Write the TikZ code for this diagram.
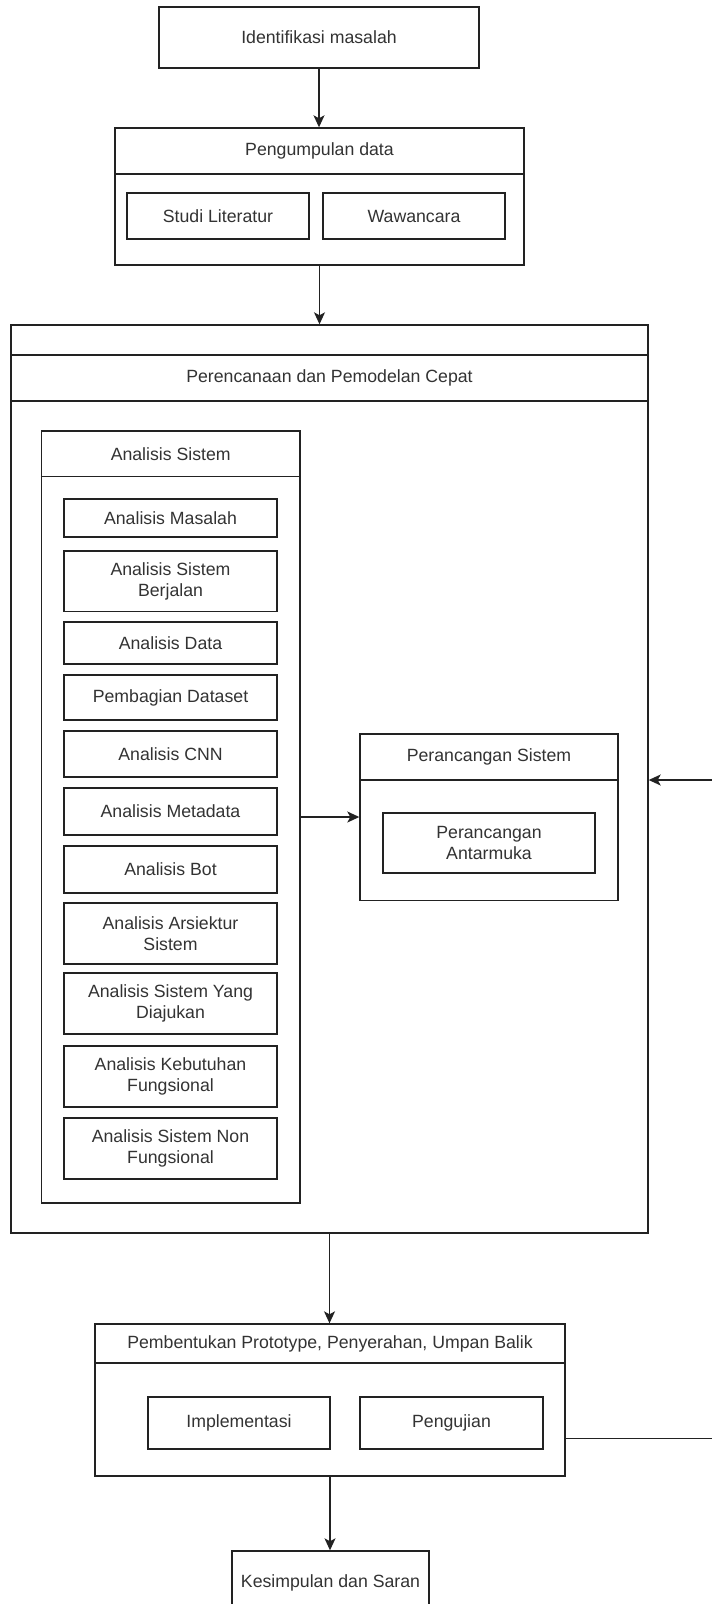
\documentclass[tikz,border=0pt]{standalone}
\usepackage{fontspec}
\setmainfont{Liberation Sans}
\usetikzlibrary{arrows.meta,calc}
\definecolor{lc}{HTML}{222222}
\definecolor{tc}{HTML}{333333}
\newcommand\fs{\fontsize{17.7}{21.5}\selectfont}
\begin{document}
\begin{tikzpicture}[x=1pt,y=-1pt,
  bx/.style={draw=lc, line width=1.4pt, fill=white, inner sep=0pt, align=center, font=\fs, text=tc},
  txt/.style={inner sep=0pt, align=center, font=\fs, text=tc},
  ln/.style={draw=lc, line width=1.4pt},
  arr/.style={draw=lc, line width=1.4pt, -{Stealth[length=12pt,width=11pt,inset=3pt]}},
  item/.style={bx, minimum width=213pt}]
\useasboundingbox (0,0) rectangle (712,1604);
% top
\node[bx, minimum width=320pt, minimum height=61pt] (ident) at (319,37.5) {Identifikasi masalah};
\node[bx, minimum width=409pt, minimum height=137pt] (peng) at (319.5,196.5) {};
\draw[ln] (peng.west |- 0,174) -- (peng.east |- 0,174);
\node[txt] (pengT) at (319.5,151) {Pengumpulan data};
\node[bx, minimum width=182pt, minimum height=46pt] (studi) at (218,216) {Studi Literatur};
\node[bx, minimum width=182pt, minimum height=46pt] (waw) at (414,216) {Wawancara};
% planning container
\node[bx, minimum width=637pt, minimum height=908pt] (peren) at (329.5,779) {};
\draw[ln] (peren.west |- 0,355) -- (peren.east |- 0,355);
\draw[ln] (peren.west |- 0,401) -- (peren.east |- 0,401);
\node[txt] (perenT) at (329.5,378) {Perencanaan dan Pemodelan Cepat};
% analisis sistem
\node[bx, minimum width=258.5pt, minimum height=772pt] (anasis) at (170.75,817) {};
\draw[ln] (anasis.west |- 0,476.5) -- (anasis.east |- 0,476.5);
\node[txt] (anasisT) at (170.75,453.75) {Analisis Sistem};
\node[item, minimum height=38pt] (a1) at (170.5,518) {Analisis Masalah};
\node[item, minimum height=60.5pt] (a2) at (170.5,581.25) {Analisis Sistem\\Berjalan};
\node[item, minimum height=42pt] (a3) at (170.5,643) {Analisis Data};
\node[item, minimum height=45pt] (a4) at (170.5,697.5) {Pembagian Dataset};
\node[item, minimum height=46pt] (a5) at (170.5,754) {Analisis CNN};
\node[item, minimum height=47pt] (a6) at (170.5,811.5) {Analisis Metadata};
\node[item, minimum height=47pt] (a7) at (170.5,869.5) {Analisis Bot};
\node[item, minimum height=61pt] (a8) at (170.5,933.5) {Analisis Arsiektur\\Sistem};
\node[item, minimum height=61pt] (a9) at (170.5,1003.5) {Analisis Sistem Yang\\Diajukan};
\node[item, minimum height=61pt] (a10) at (170.5,1076.5) {Analisis Kebutuhan\\Fungsional};
\node[item, minimum height=61pt] (a11) at (170.5,1148.5) {Analisis Sistem Non\\Fungsional};
% perancangan sistem
\node[bx, minimum width=258pt, minimum height=166.5pt] (persis) at (489,817.25) {};
\draw[ln] (persis.west |- 0,780) -- (persis.east |- 0,780);
\node[txt] (persisT) at (489,757) {Perancangan Sistem};
\node[bx, minimum width=212pt, minimum height=60pt] (antar) at (489,843) {Perancangan\\Antarmuka};
% prototype
\node[bx, minimum width=470pt, minimum height=152pt] (pemb) at (330,1400) {};
\draw[ln] (pemb.west |- 0,1363) -- (pemb.east |- 0,1363);
\node[txt] (pembT) at (330,1343.5) {Pembentukan Prototype, Penyerahan, Umpan Balik};
\node[bx, minimum width=182pt, minimum height=52pt] (impl) at (239,1423) {Implementasi};
\node[bx, minimum width=183pt, minimum height=52pt] (uji) at (451.5,1423) {Pengujian};
% conclusion
\node[bx, minimum width=197pt, minimum height=64pt] (kes) at (330.5,1583) {Kesimpulan dan Saran};
% connectors
\draw[arr] (ident.south) -- (ident.south |- peng.north);
\draw[arr] (peng.south) -- (peng.south |- peren.north);
\draw[arr] (anasis.east) -- (anasis.east -| persis.west);
\draw[arr] (peren.south) -- (peren.south |- pemb.north);
\draw[arr] (pemb.south) -- (pemb.south |- kes.north);
\coordinate (fbs) at ($(pemb.south east)!0.25!(pemb.north east)$);
\coordinate (fbx) at (716,780);
\draw[arr] (fbs) -| (fbx) -- (fbx -| peren.east);
\end{tikzpicture}
\end{document}
